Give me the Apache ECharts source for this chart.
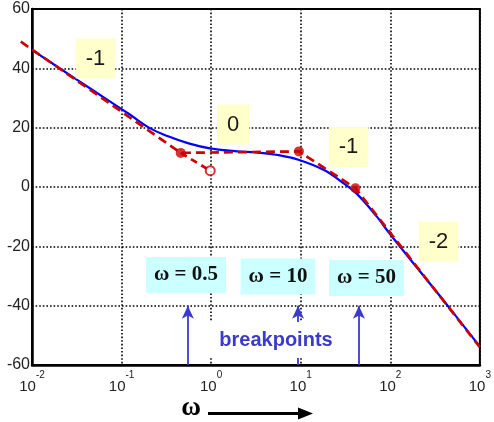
<!DOCTYPE html>
<html>
<head>
<meta charset="utf-8">
<script src="https://cdn.jsdelivr.net/npm/echarts@6/dist/echarts.min.js"></script>
<style>html,body{margin:0;padding:0;background:#fff;}#c{width:494px;height:422px;}</style>
</head>
<body>
<div id="c"></div>
<script>
// x values are log10(omega)
const xTicks = [-2, -1, 0, 1, 2, 3];
const yTicks = [-60, -40, -20, 0, 20, 40, 60];
const blueX = [-2, -1.5, -1.174, -0.916, -0.695, -0.473, -0.252, -0.012, 0.264, 0.522, 0.743, 0.983, 1.26, 1.48, 1.63, 1.85, 1.99, 2.29, 2.59, 3];
const blueY = [46.2, 36.2, 29.7, 24.6, 20.0, 17.0, 14.7, 13.0, 12.1, 11.6, 10.8, 9.1, 5.7, 1.2, -2.4, -10, -15.6, -26.9, -38.1, -53.8];
const redX = [-2.125, -0.34, 0.98, 1.61, 3];
const redY = [49, 11.5, 12.0, -0.4, -54];
const extX = [-0.34, -0.01];
const extY = [11.5, 5.5];
const dotX = [-0.34, 0.98, 1.61];
const dotY = [11.5, 12.0, -0.4];
const openX = [-0.01];
const openY = [5.5];
const arrowX = [-0.26, 0.97, 1.65];
const slopeLabels = ['-1', '0', '-1', '-2'];
const breakLabels = ['ω = 0.5', 'ω = 10', 'ω = 50'];

const zip = (a, b) => a.map((v, i) => [v, b[i]]);

const chart = echarts.init(document.getElementById('c'));
const G = {left: 32, top: 9, right: 10, bottom: 57};

const yellowPos = [[95.5, 58.5], [233, 124.5], [348.5, 147], [438.5, 241.5]];
const cyanPos = [[186, 275], [278, 276.5], [366.5, 278]];

const RED = '#CC0000';
const graphics = [];
slopeLabels.forEach((t, i) => {
  graphics.push({
    type: 'text', z: 100, x: yellowPos[i][0], y: yellowPos[i][1],
    style: {text: t, fontSize: 22, fontFamily: 'Liberation Sans', fill: '#1a1a1a',
      align: 'center', verticalAlign: 'middle', backgroundColor: '#FFFFCC', padding: [10, 10, 8, 10]}
  });
});
breakLabels.forEach((t, i) => {
  graphics.push({
    type: 'text', z: 100, x: cyanPos[i][0], y: cyanPos[i][1],
    style: {text: t, fontSize: 21, fontWeight: 'bold', fontFamily: 'Liberation Serif', fill: '#111',
      align: 'center', verticalAlign: 'middle', backgroundColor: '#CCFFFF', padding: [8, 8, 7, 8]}
  });
});
graphics.push({
  type: 'text', z: 100, x: 274, y: 340,
  style: {text: 'breakpoints', fontSize: 20, fontWeight: 'bold', fontFamily: 'Liberation Sans', fill: '#3a3acc',
    align: 'center', verticalAlign: 'middle', backgroundColor: '#fff', padding: [7, 6, 9, 10]}
});
graphics.push({
  type: 'text', z: 100, x: 191, y: 422,
  style: {text: 'ω', fontSize: 27, fontWeight: 'bold', fontFamily: 'Liberation Serif', fill: '#000',
    align: 'center', verticalAlign: 'bottom'}
});
graphics.push({type: 'line', z: 100, shape: {x1: 208, y1: 413.5, x2: 300, y2: 413.5}, style: {stroke: '#000', lineWidth: 3}});
graphics.push({type: 'polygon', z: 100, shape: {points: [[298, 407.5], [313, 413.5], [298, 419.5]]}, style: {fill: '#000'}});

chart.setOption({
  animation: false,
  grid: Object.assign({show: true, borderColor: '#000', borderWidth: 2, backgroundColor: '#fff'}, G),
  xAxis: {
    type: 'value', min: xTicks[0], max: xTicks[xTicks.length - 1], interval: 1,
    axisLine: {show: true, onZero: false, lineStyle: {color: '#000', width: 2.5}},
    axisTick: {show: false},
    splitLine: {show: true, lineStyle: {color: '#000', width: 1.6, type: [1.6, 2]}},
    axisLabel: {
      margin: 5,
      formatter: v => '{b|10}{s|' + v + '}',
      rich: {
        b: {fontSize: 15, fontFamily: 'Liberation Sans', color: '#222', verticalAlign: 'bottom', padding: [9, 0, 0, 0]},
        s: {fontSize: 10, fontFamily: 'Liberation Sans', color: '#222', verticalAlign: 'top'}
      }
    }
  },
  yAxis: {
    type: 'value', min: yTicks[0], max: yTicks[yTicks.length - 1], interval: 20,
    axisLine: {show: true, onZero: false, lineStyle: {color: '#000', width: 2.5}},
    axisTick: {show: false},
    splitLine: {show: true, lineStyle: {color: '#000', width: 1.6, type: [1.6, 2]}},
    axisLabel: {margin: 2, fontSize: 16, fontFamily: 'Liberation Sans', color: '#222'}
  },
  graphic: graphics,
  series: [
    {type: 'line', data: zip(blueX, blueY), smooth: 0.4, showSymbol: false, z: 3,
      lineStyle: {color: '#0000FF', width: 2.2}},
    {type: 'line', data: zip(redX, redY), showSymbol: false, clip: false, z: 4,
      lineStyle: {color: RED, width: 2.7, type: [9, 5]}},
    {type: 'line', data: zip(extX, extY), showSymbol: false, z: 4,
      lineStyle: {color: RED, width: 2.7, type: [7, 5]}},
    {type: 'scatter', data: zip(dotX, dotY), symbol: 'circle', symbolSize: 10, z: 5,
      itemStyle: {color: RED}},
    {type: 'scatter', data: zip(openX, openY), symbol: 'circle', symbolSize: 9, z: 5,
      itemStyle: {color: '#fff', borderColor: RED, borderWidth: 2}},
    {type: 'line', data: [], z: 6,
      markLine: {
        silent: true, symbol: ['none', 'arrow'], symbolSize: [9, 13], label: {show: false},
        lineStyle: {color: '#3a3acc', width: 1.8, type: 'solid'},
        data: arrowX.map(x => [{coord: [x, -60]}, {coord: [x, -40]}])
      }}
  ]
});

// the asymptote starts a little left of the axis: draw that part through the library's scales
const p0 = chart.convertToPixel({gridIndex: 0}, [redX[0], redY[0]]);
const slope = (redY[1] - redY[0]) / (redX[1] - redX[0]);
const p1 = chart.convertToPixel({gridIndex: 0}, [xTicks[0], redY[0] + slope * (xTicks[0] - redX[0])]);
chart.setOption({graphic: graphics.concat([{
  type: 'line', z: 50, shape: {x1: p0[0], y1: p0[1], x2: p1[0], y2: p1[1]},
  style: {stroke: RED, lineWidth: 2.7, lineDash: [9, 5]}
}])});
</script>
</body>
</html>
